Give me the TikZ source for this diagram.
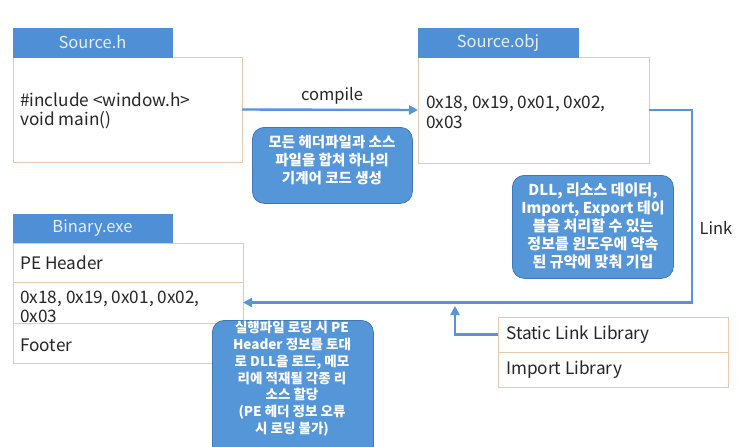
\documentclass[tikz,border=0pt]{standalone}
\usepackage{fontspec}
\setmainfont{Noto Sans CJK KR}
\usetikzlibrary{arrows.meta}
\definecolor{hdrblue}{HTML}{4F8FD6}
\definecolor{hdrtxt}{HTML}{E4EEF8}
\definecolor{tan}{HTML}{E8C9AE}
\definecolor{bubble}{HTML}{5596D8}
\definecolor{bubbleedge}{HTML}{3F78B5}
\definecolor{conn}{HTML}{5596D8}
\definecolor{txt}{HTML}{262626}
\tikzset{
  hdr/.style={fill=hdrblue, draw=hdrblue, inner sep=0, outer sep=0, anchor=north west, text=hdrtxt, font=\fontsize{16.5}{18}\selectfont},
  cell/.style={draw=tan, line width=1pt, fill=white, inner sep=0, outer sep=0, anchor=north west},
  btxt/.style={text=txt, anchor=west, align=left, inner sep=0, font=\fontsize{17.2}{19.5}\selectfont},
  bubblebox/.style={fill=bubble, draw=bubbleedge, line width=0.8pt, rounded corners=12pt, inner sep=0, anchor=north west},
  bubbletxt/.style={text=white, align=center, inner sep=0, anchor=north},
  connline/.style={draw=conn, line width=2.4pt},
  tip/.style={-{Triangle[length=9pt,width=9pt]}},
  lbl/.style={text=txt, inner sep=0, font=\fontsize{16.5}{18}\selectfont}
}
\begin{document}
\begin{tikzpicture}[x=1pt,y=-1pt]
\useasboundingbox[fill=white] (0,0) rectangle (745,447);
% Source.h
\node[cell, minimum width=229, minimum height=105] (shbody) at (13,57) {};
\node[hdr, minimum width=159, minimum height=29] (shhdr) at (13,28) {Source.h};
\node[btxt] (shtxt) at (20,111) {\#include <window.h>\\void main()};
% Source.obj
\node[cell, minimum width=231, minimum height=106] (sobody) at (418,57) {};
\node[hdr, minimum width=160, minimum height=29] (sohdr) at (418,28) {Source.obj};
\node[btxt, font=\fontsize{17.2}{20}\selectfont] (sotxt) at (426,112) {0x18, 0x19, 0x01, 0x02,\\0x03};
% Binary.exe
\node[hdr, minimum width=159, minimum height=29] (bhdr) at (13,214) {Binary.exe};
\node[cell, minimum width=230, minimum height=39] (brow1) at (13,243) {};
\node[cell, minimum width=230, minimum height=41] (brow2) at (13,282) {};
\node[cell, minimum width=230, minimum height=40] (brow3) at (13,323) {};
\node[btxt] (b1txt) at (20,263) {PE Header};
\node[btxt, font=\fontsize{17.2}{18.5}\selectfont] (b2txt) at (20,307) {0x18, 0x19, 0x01, 0x02,\\0x03};
\node[btxt] (b3txt) at (20,345) {Footer};
% Libraries
\node[cell, minimum width=230, minimum height=35] (sl1) at (498,317) {};
\node[cell, minimum width=230, minimum height=35] (sl2) at (498,352) {};
\node[btxt] (sl1txt) at (506,335) {Static Link Library};
\node[btxt] (sl2txt) at (506,370) {Import Library};
% bubbles
\node[bubblebox, minimum width=160, minimum height=76] (bub1) at (252,127) {};
\node[bubbletxt, font=\bfseries\fontsize{14.5}{18}\selectfont] (bub1txt) at (332,135) {모든 헤더파일과 소스\\파일을 합쳐 하나의\\기계어 코드 생성};
\node[bubblebox, minimum width=161, minimum height=103] (bub2) at (512,175) {};
\node[bubbletxt, font=\bfseries\fontsize{15}{17.8}\selectfont] (bub2txt) at (593,183) {DLL, 리소스 데이터,\\Import, Export 테이\\블을 처리할 수 있는\\정보를 윈도우에 약속\\된 규약에 맞춰 기입};
\node[bubblebox, minimum width=161, minimum height=140] (bub3) at (212,320) {};
\node[bubbletxt, font=\bfseries\fontsize{13.5}{16.8}\selectfont] (bub3txt) at (292,321) {실행파일 로딩 시 PE\\Header 정보를 토대\\로 DLL을 로드, 메모\\리에 적재될 각종 리\\소스 할당\\(PE 헤더 정보 오류\\시 로딩 불가)};
% connectors
\draw[connline, tip] (shbody.east) -- (sobody.west);
\node[lbl] (compile) at (332,96) {compile};
\coordinate (lk) at (692,0);
\draw[connline, tip] (sobody.east) -| (lk |- brow2.east) -- (brow2.east);
\node[lbl] (linklbl) at (716,228) {Link};
\coordinate (up) at (455,306);
\draw[connline, tip] (sl1.west) -| (up);
\end{tikzpicture}
\end{document}
